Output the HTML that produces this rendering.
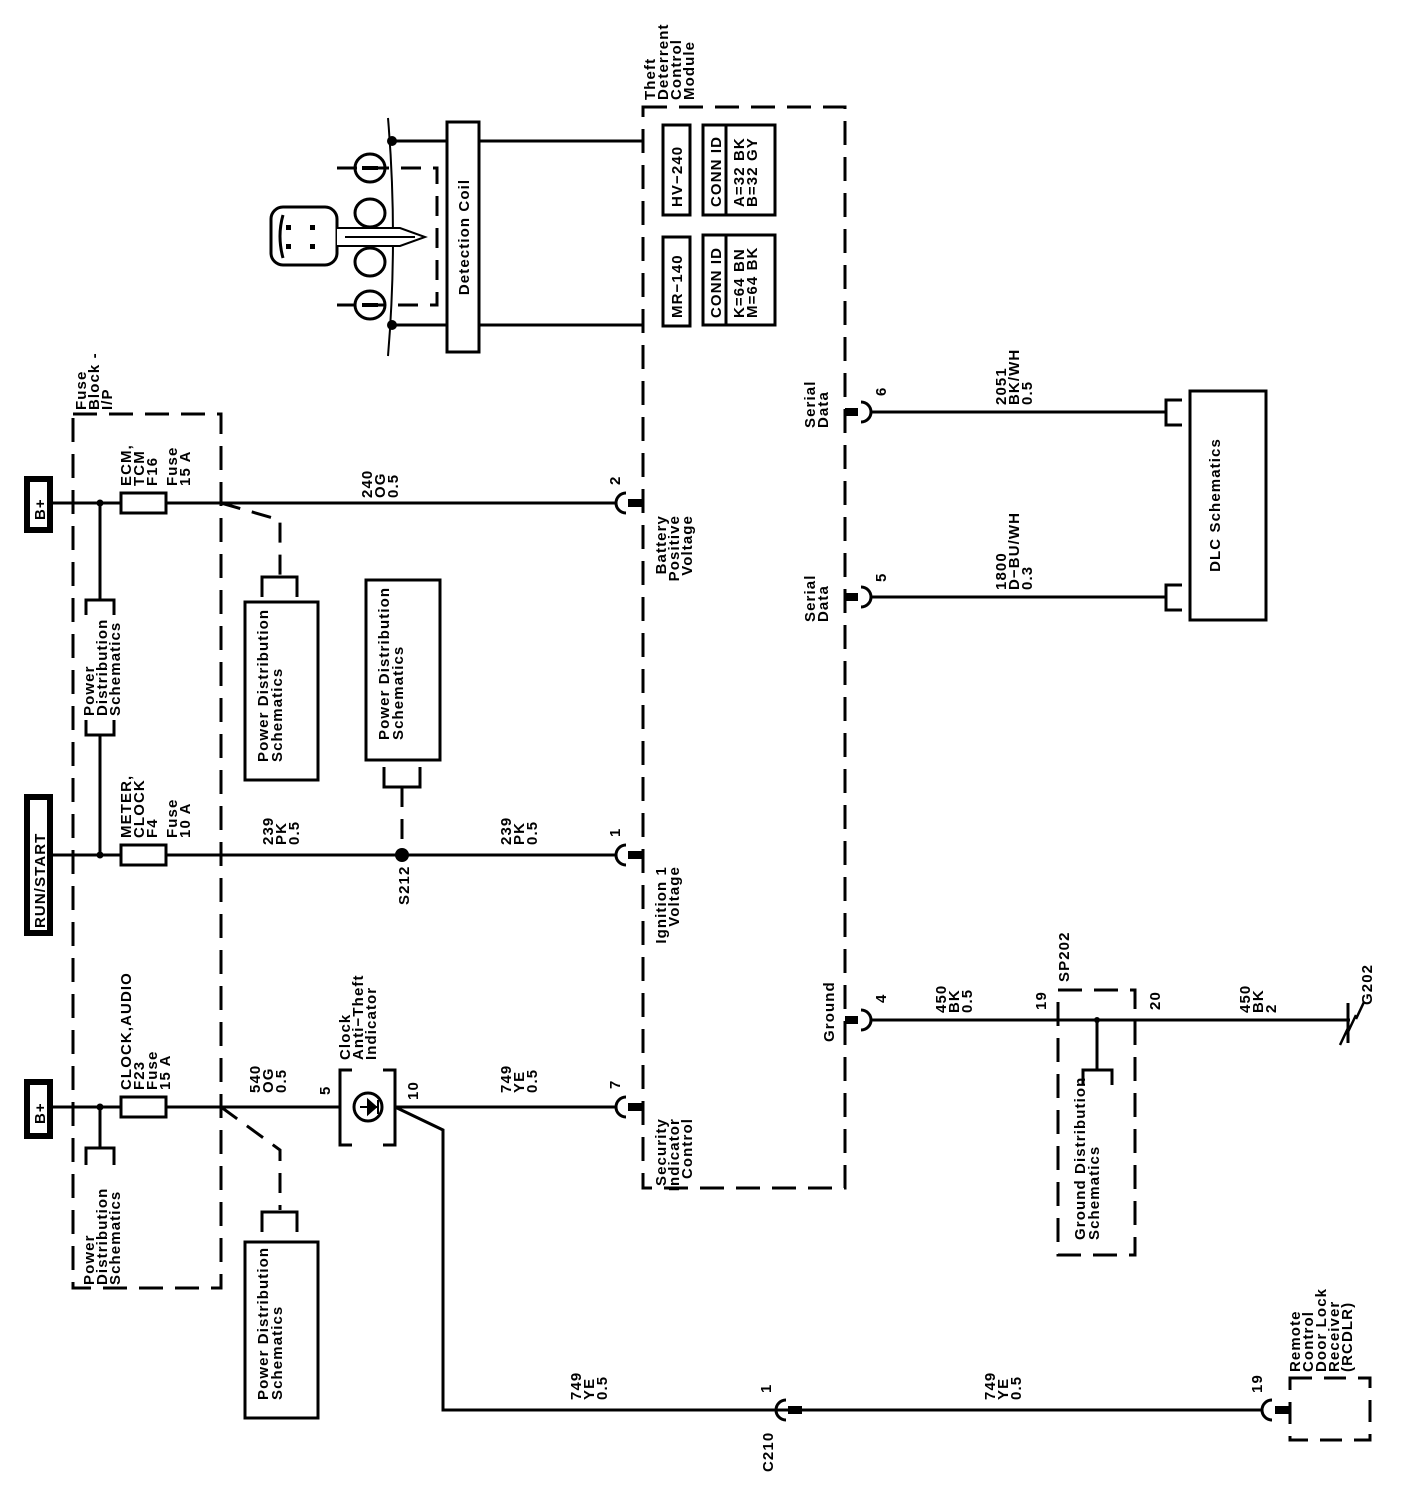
<!DOCTYPE html>
<html><head><meta charset="utf-8"><style>
html,body{margin:0;padding:0;background:#fff;}
svg{display:block;}
text{font-family:"Liberation Sans",Arial,sans-serif;font-size:15px;font-weight:bold;fill:#000;letter-spacing:1.1px;}
</style></head><body>
<svg width="1408" height="1494" viewBox="0 0 1408 1494" xmlns="http://www.w3.org/2000/svg">
<g fill="none" stroke="#000" stroke-width="3">
<rect x="27" y="479" width="23" height="51" stroke-width="6"/>
<rect x="27" y="797" width="23" height="136" stroke-width="6"/>
<rect x="27" y="1082" width="23" height="54" stroke-width="6"/>
<rect x="73" y="414" width="148" height="874" stroke-dasharray="24,12"/>
<line x1="52" y1="503" x2="616" y2="503"/>
<line x1="52" y1="855" x2="616" y2="855"/>
<line x1="52" y1="1107" x2="340" y2="1107"/>
<line x1="395" y1="1107" x2="616" y2="1107"/>
<line x1="100" y1="503" x2="100" y2="600"/>
<path d="M86,615 V600 H114 V615"/>
<path d="M86,720 V735 H114 V720"/>
<line x1="100" y1="735" x2="100" y2="855"/>
<line x1="100" y1="1107" x2="100" y2="1148"/>
<path d="M86,1165 V1148 H114 V1165"/>
<rect x="121" y="493" width="45" height="20" fill="#fff"/>
<rect x="121" y="845" width="45" height="20" fill="#fff"/>
<rect x="121" y="1097" width="45" height="20" fill="#fff"/>
<path d="M221,503 L280,520 V575" stroke-dasharray="20,12"/>
<path d="M262,597 V577 H297 V597"/>
<rect x="245" y="602" width="73" height="178"/>
<rect x="366" y="580" width="74" height="180"/>
<path d="M384,767 V787 H420 V767"/>
<line x1="402" y1="787" x2="402" y2="855" stroke-dasharray="20,12"/>
<path d="M221,1107 L280,1150 V1210" stroke-dasharray="20,12"/>
<path d="M262,1232 V1212 H297 V1232"/>
<rect x="245" y="1242" width="73" height="176"/>
<path d="M352,1070 H340 V1145 H352 M383,1070 H395 V1145 H383" />
<circle cx="368" cy="1107" r="14" stroke-width="3"/>
<path d="M360,1107 H378 M368,1100 L376,1107 L368,1114 Z M378,1100 V1114" stroke-width="2" fill="#000"/>
<path d="M395,1107 L443,1130 V1410 H790"/>
<line x1="800" y1="1410" x2="1262" y2="1410"/>
<rect x="643" y="107" width="202" height="1081" stroke-dasharray="24,12"/>
<rect x="663" y="125" width="27" height="90"/>
<rect x="703" y="125" width="72" height="90"/>
<line x1="726" y1="125" x2="726" y2="215"/>
<rect x="663" y="237" width="27" height="89"/>
<rect x="703" y="235" width="72" height="90"/>
<line x1="726" y1="235" x2="726" y2="325"/>
<rect x="447" y="122" width="32" height="230"/>
<line x1="479" y1="141" x2="643" y2="141"/>
<line x1="479" y1="325" x2="643" y2="325"/>
<line x1="392" y1="141" x2="447" y2="141"/>
<line x1="392" y1="325" x2="447" y2="325"/>
<path d="M388,118 Q398,237 388,356" stroke-width="2"/>
<path d="M337,168 H437 V305 H337" stroke-dasharray="20,12"/>
<ellipse cx="370" cy="168" rx="15" ry="14"/>
<ellipse cx="370" cy="213" rx="15" ry="14"/>
<ellipse cx="370" cy="262" rx="15" ry="14"/>
<ellipse cx="370" cy="305" rx="15" ry="14"/>
<line x1="362" y1="168" x2="378" y2="168" stroke-width="4"/>
<line x1="362" y1="305" x2="378" y2="305" stroke-width="4"/>
<rect x="271" y="207" width="66" height="58" rx="12"/>
<path d="M283,215 Q277,236 283,258" />
<path d="M337,228 H400 L425,237 L400,246 H337" stroke-width="2" fill="#fff"/>
<line x1="345" y1="237" x2="415" y2="237" stroke-width="2"/>
<line x1="870" y1="412" x2="1166" y2="412"/>
<path d="M1182,400 H1166 V425 H1182"/>
<line x1="870" y1="597" x2="1166" y2="597"/>
<path d="M1182,585 H1166 V610 H1182"/>
<rect x="1190" y="391" width="76" height="229"/>
<line x1="870" y1="1020" x2="1350" y2="1020"/>
<rect x="1058" y="990" width="77" height="265" stroke-dasharray="24,12"/>
<line x1="1097" y1="1020" x2="1097" y2="1070"/>
<path d="M1083,1085 V1070 H1112 V1085"/>
<line x1="1348" y1="1003" x2="1348" y2="1043"/>
<path d="M1348,1028 L1340,1045 M1356,1015 L1348,1032 M1364,1002 L1356,1019" stroke-width="2.5"/>
<rect x="1290" y="1378" width="80" height="62" stroke-dasharray="22,12"/>
</g>
<g fill="#000" stroke="none">
<circle cx="100" cy="503" r="3.5"/><circle cx="100" cy="855" r="3.5"/><circle cx="100" cy="1107" r="3.5"/>
<circle cx="402" cy="855" r="7"/>
<circle cx="392" cy="141" r="5"/><circle cx="392" cy="325" r="5"/>
<circle cx="1097" cy="1020" r="3"/>
<rect x="286" y="225" width="5" height="5"/><rect x="286" y="244" width="5" height="5"/><rect x="310" y="225" width="5" height="5"/><rect x="310" y="244" width="5" height="5"/>
<rect x="628" y="499" width="15" height="8"/><rect x="628" y="851" width="15" height="8"/><rect x="628" y="1103" width="15" height="8"/>
<rect x="845" y="408" width="13" height="8"/><rect x="845" y="593" width="13" height="8"/><rect x="845" y="1016" width="13" height="8"/>
<rect x="788" y="1406" width="14" height="8"/><rect x="1275" y="1406" width="15" height="8"/>
</g>
<g fill="none" stroke="#000" stroke-width="3">
<path d="M626,493 A10,10 0 0 0 626,513"/><path d="M626,845 A10,10 0 0 0 626,865"/><path d="M626,1097 A10,10 0 0 0 626,1117"/>
<path d="M861,402 A10,10 0 0 1 861,422"/><path d="M861,587 A10,10 0 0 1 861,607"/><path d="M861,1010 A10,10 0 0 1 861,1030"/>
<path d="M786,1400 A10,10 0 0 0 786,1420"/><path d="M1272,1400 A10,10 0 0 0 1272,1420"/>
</g>
<text transform="translate(45,520) rotate(-90)">B+</text>
<text transform="translate(45,928) rotate(-90)">RUN/START</text>
<text transform="translate(45,1124) rotate(-90)">B+</text>
<text transform="translate(86,410) rotate(-90)"><tspan x="0">Fuse</tspan><tspan x="0" dy="13">Block -</tspan><tspan x="0" dy="13">I/P</tspan></text>
<text transform="translate(131,486) rotate(-90)"><tspan x="0">ECM,</tspan><tspan x="0" dy="13">TCM</tspan><tspan x="0" dy="13">F16</tspan><tspan x="0" dy="20">Fuse</tspan><tspan x="0" dy="13">15 A</tspan></text>
<text transform="translate(131,838) rotate(-90)"><tspan x="0">METER,</tspan><tspan x="0" dy="13">CLOCK</tspan><tspan x="0" dy="13">F4</tspan><tspan x="0" dy="20">Fuse</tspan><tspan x="0" dy="13">10 A</tspan></text>
<text transform="translate(131,1090) rotate(-90)"><tspan x="0">CLOCK,AUDIO</tspan><tspan x="0" dy="13">F23</tspan><tspan x="0" dy="13">Fuse</tspan><tspan x="0" dy="13">15 A</tspan></text>
<text transform="translate(94,716) rotate(-90)"><tspan x="0">Power</tspan><tspan x="0" dy="13">Distribution</tspan><tspan x="0" dy="13">Schematics</tspan></text>
<text transform="translate(94,1285) rotate(-90)"><tspan x="0">Power</tspan><tspan x="0" dy="13">Distribution</tspan><tspan x="0" dy="13">Schematics</tspan></text>
<text transform="translate(268,762) rotate(-90)"><tspan x="0">Power Distribution</tspan><tspan x="0" dy="14">Schematics</tspan></text>
<text transform="translate(389,740) rotate(-90)"><tspan x="0">Power Distribution</tspan><tspan x="0" dy="14">Schematics</tspan></text>
<text transform="translate(268,1400) rotate(-90)"><tspan x="0">Power Distribution</tspan><tspan x="0" dy="14">Schematics</tspan></text>
<text transform="translate(372,498) rotate(-90)"><tspan x="0">240</tspan><tspan x="0" dy="13">OG</tspan><tspan x="0" dy="13">0.5</tspan></text>
<text transform="translate(273,845) rotate(-90)"><tspan x="0">239</tspan><tspan x="0" dy="13">PK</tspan><tspan x="0" dy="13">0.5</tspan></text>
<text transform="translate(511,845) rotate(-90)"><tspan x="0">239</tspan><tspan x="0" dy="13">PK</tspan><tspan x="0" dy="13">0.5</tspan></text>
<text transform="translate(409,905) rotate(-90)">S212</text>
<text transform="translate(260,1093) rotate(-90)"><tspan x="0">540</tspan><tspan x="0" dy="13">OG</tspan><tspan x="0" dy="13">0.5</tspan></text>
<text transform="translate(511,1093) rotate(-90)"><tspan x="0">749</tspan><tspan x="0" dy="13">YE</tspan><tspan x="0" dy="13">0.5</tspan></text>
<text transform="translate(330,1095) rotate(-90)">5</text>
<text transform="translate(418,1100) rotate(-90)">10</text>
<text transform="translate(350,1060) rotate(-90)"><tspan x="0">Clock</tspan><tspan x="0" dy="13">Anti−Theft</tspan><tspan x="0" dy="13">Indicator</tspan></text>
<text transform="translate(581,1400) rotate(-90)"><tspan x="0">749</tspan><tspan x="0" dy="13">YE</tspan><tspan x="0" dy="13">0.5</tspan></text>
<text transform="translate(995,1400) rotate(-90)"><tspan x="0">749</tspan><tspan x="0" dy="13">YE</tspan><tspan x="0" dy="13">0.5</tspan></text>
<text transform="translate(771,1393) rotate(-90)">1</text>
<text transform="translate(773,1472) rotate(-90)">C210</text>
<text transform="translate(1262,1393) rotate(-90)">19</text>
<text transform="translate(1300,1372) rotate(-90)"><tspan x="0">Remote</tspan><tspan x="0" dy="13">Control</tspan><tspan x="0" dy="13">Door Lock</tspan><tspan x="0" dy="13">Receiver</tspan><tspan x="0" dy="13">(RCDLR)</tspan></text>
<text transform="translate(620,485) rotate(-90)">2</text>
<text transform="translate(620,837) rotate(-90)">1</text>
<text transform="translate(620,1089) rotate(-90)">7</text>
<text transform="translate(666,515) rotate(-90)" text-anchor="end"><tspan x="0">Battery</tspan><tspan x="0" dy="13">Positive</tspan><tspan x="0" dy="13">Voltage</tspan></text>
<text transform="translate(666,866) rotate(-90)" text-anchor="end"><tspan x="0">Ignition 1</tspan><tspan x="0" dy="13">Voltage</tspan></text>
<text transform="translate(666,1118) rotate(-90)" text-anchor="end"><tspan x="0">Security</tspan><tspan x="0" dy="13">Indicator</tspan><tspan x="0" dy="13">Control</tspan></text>
<text transform="translate(655,100) rotate(-90)"><tspan x="0">Theft</tspan><tspan x="0" dy="13">Deterrent</tspan><tspan x="0" dy="13">Control</tspan><tspan x="0" dy="13">Module</tspan></text>
<text transform="translate(682,207) rotate(-90)">HV−240</text>
<text transform="translate(721,207) rotate(-90)">CONN ID</text>
<text transform="translate(744,207) rotate(-90)"><tspan x="0">A=32 BK</tspan><tspan x="0" dy="13">B=32 GY</tspan></text>
<text transform="translate(682,318) rotate(-90)">MR−140</text>
<text transform="translate(721,318) rotate(-90)">CONN ID</text>
<text transform="translate(744,318) rotate(-90)"><tspan x="0">K=64 BN</tspan><tspan x="0" dy="13">M=64 BK</tspan></text>
<text transform="translate(469,237) rotate(-90)" text-anchor="middle">Detection Coil</text>
<text transform="translate(815,428) rotate(-90)"><tspan x="0">Serial</tspan><tspan x="0" dy="13">Data</tspan></text>
<text transform="translate(815,622) rotate(-90)"><tspan x="0">Serial</tspan><tspan x="0" dy="13">Data</tspan></text>
<text transform="translate(834,1042) rotate(-90)">Ground</text>
<text transform="translate(886,396) rotate(-90)">6</text>
<text transform="translate(886,582) rotate(-90)">5</text>
<text transform="translate(886,1003) rotate(-90)">4</text>
<text transform="translate(1006,405) rotate(-90)"><tspan x="0">2051</tspan><tspan x="0" dy="13">BK/WH</tspan><tspan x="0" dy="13">0.5</tspan></text>
<text transform="translate(1006,590) rotate(-90)"><tspan x="0">1800</tspan><tspan x="0" dy="13">D−BU/WH</tspan><tspan x="0" dy="13">0.3</tspan></text>
<text transform="translate(1220,505) rotate(-90)" text-anchor="middle">DLC Schematics</text>
<text transform="translate(946,1013) rotate(-90)"><tspan x="0">450</tspan><tspan x="0" dy="13">BK</tspan><tspan x="0" dy="13">0.5</tspan></text>
<text transform="translate(1046,1010) rotate(-90)">19</text>
<text transform="translate(1069,982) rotate(-90)">SP202</text>
<text transform="translate(1160,1010) rotate(-90)">20</text>
<text transform="translate(1250,1013) rotate(-90)"><tspan x="0">450</tspan><tspan x="0" dy="13">BK</tspan><tspan x="0" dy="13">2</tspan></text>
<text transform="translate(1372,1005) rotate(-90)">G202</text>
<text transform="translate(1085,1240) rotate(-90)"><tspan x="0">Ground Distribution</tspan><tspan x="0" dy="14">Schematics</tspan></text>
</svg>
</body></html>
